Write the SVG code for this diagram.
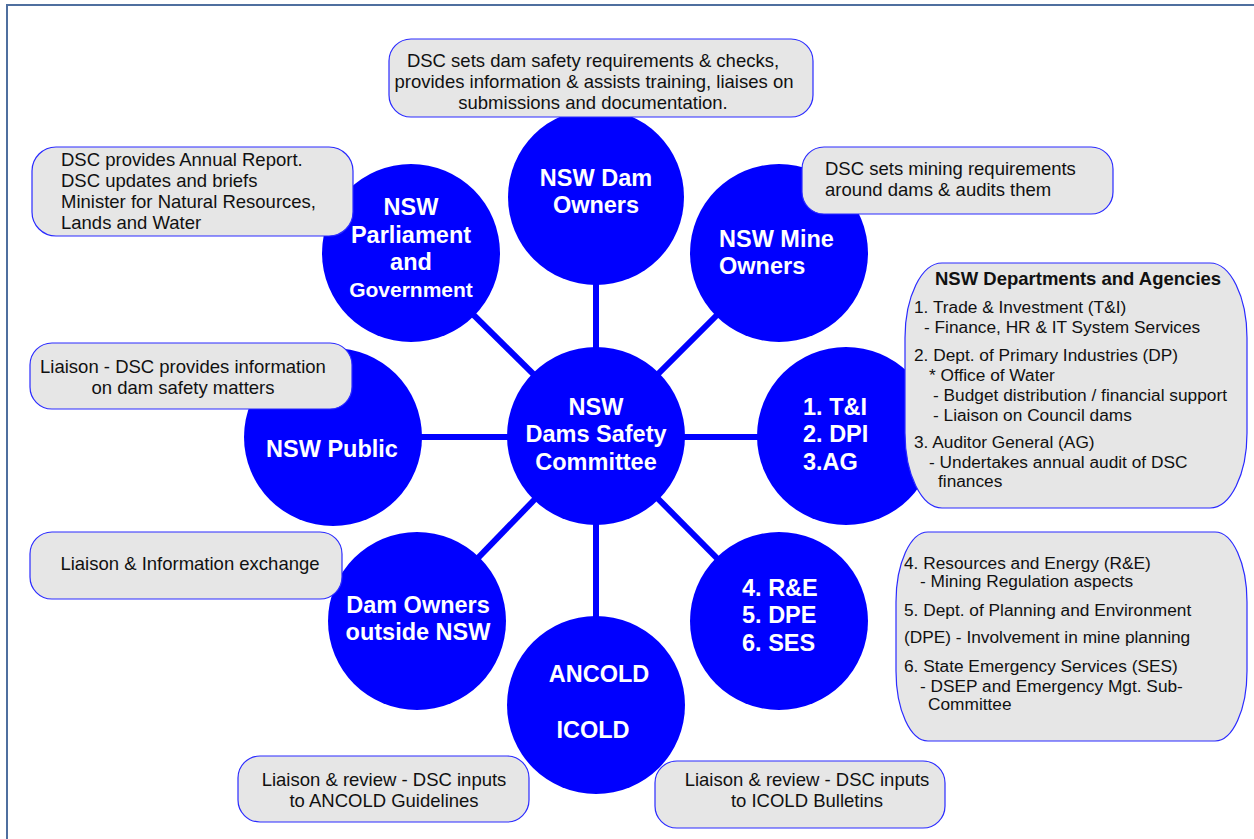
<svg xmlns="http://www.w3.org/2000/svg" width="1254" height="839" viewBox="0 0 1254 839">
<style>
.hub{fill:#0000ff}
.ct{font-family:"Liberation Sans",Arial,sans-serif;font-weight:bold;font-size:23.5px;fill:#ffffff}
.cm{text-anchor:middle}
.box{fill:#e6e6e6;stroke:#2a2aff;stroke-width:1.2}
.bt{font-family:"Liberation Sans",Arial,sans-serif;font-size:18.5px;fill:#111111}
.st{font-family:"Liberation Sans",Arial,sans-serif;font-size:17.3px;fill:#111111}
.conn{stroke:#0000ff;stroke-width:6;fill:none}
</style>
<rect x="7" y="5" width="1262" height="852" fill="#ffffff" stroke="#4f6f9f" stroke-width="2"/>
<g id="connectors">
<line class="conn" x1="596" y1="436" x2="596" y2="197"/>
<line class="conn" x1="596" y1="436" x2="411" y2="253"/>
<line class="conn" x1="596" y1="436" x2="779" y2="253"/>
<line class="conn" x1="596" y1="437" x2="846" y2="437"/>
<line class="conn" x1="596" y1="437" x2="333" y2="437"/>
<line class="conn" x1="596" y1="436" x2="779" y2="621"/>
<line class="conn" x1="596" y1="436" x2="417" y2="621"/>
<line class="conn" x1="596" y1="436" x2="596" y2="705"/>
</g>
<g id="dsc">
<circle class="hub" cx="596" cy="436" r="89"/>
<text class="ct cm" x="596" y="415">NSW</text>
<text class="ct cm" x="596" y="442">Dams Safety</text>
<text class="ct cm" x="596" y="470">Committee</text>
</g>
<g id="dam-owners">
<circle class="hub" cx="596" cy="197" r="88"/>
<text class="ct cm" x="596" y="186">NSW Dam</text>
<text class="ct cm" x="596" y="213">Owners</text>
</g>
<g id="parliament">
<circle class="hub" cx="411" cy="253" r="89"/>
<text class="ct cm" x="411" y="215">NSW</text>
<text class="ct cm" x="411" y="243">Parliament</text>
<text class="ct cm" x="411" y="270">and</text>
<text class="ct cm" x="411" y="297" style="font-size:21px">Government</text>
</g>
<g id="mine-owners">
<circle class="hub" cx="779" cy="253" r="89"/>
<text class="ct" x="719" y="247">NSW Mine</text>
<text class="ct" x="719" y="274">Owners</text>
</g>
<g id="ti-dpi-ag">
<circle class="hub" cx="846" cy="436" r="89"/>
<text class="ct" x="803" y="415">1. T&amp;I</text>
<text class="ct" x="803" y="442">2. DPI</text>
<text class="ct" x="803" y="470">3.AG</text>
</g>
<g id="re-dpe-ses">
<circle class="hub" cx="779" cy="621" r="89"/>
<text class="ct" x="742" y="596">4. R&amp;E</text>
<text class="ct" x="742" y="623">5. DPE</text>
<text class="ct" x="742" y="651">6. SES</text>
</g>
<g id="ancold-icold">
<circle class="hub" cx="596" cy="705" r="89"/>
<text class="ct cm" x="599" y="682">ANCOLD</text>
<text class="ct cm" x="593" y="738">ICOLD</text>
</g>
<g id="outside-owners">
<circle class="hub" cx="417" cy="621" r="89"/>
<text class="ct cm" x="418" y="613">Dam Owners</text>
<text class="ct cm" x="418" y="640">outside NSW</text>
</g>
<g id="public">
<circle class="hub" cx="333" cy="437" r="89"/>
<text class="ct cm" x="332" y="457">NSW Public</text>
</g>
<g id="note-dam-owners">
<rect class="box" x="389" y="39" width="424" height="78" rx="22"/>
<text class="bt cm" x="593" y="67">DSC sets dam safety requirements &amp; checks,</text>
<text class="bt cm" x="594" y="88">provides information &amp; assists training, liaises on</text>
<text class="bt cm" x="593" y="109">submissions and documentation.</text>
</g>
<g id="note-parliament">
<rect class="box" x="32" y="147" width="321" height="89" rx="24"/>
<text class="bt" x="61" y="166">DSC provides Annual Report.</text>
<text class="bt" x="61" y="187">DSC updates and briefs</text>
<text class="bt" x="61" y="208">Minister for Natural Resources,</text>
<text class="bt" x="61" y="229">Lands and Water</text>
</g>
<g id="note-mine">
<rect class="box" x="802" y="147" width="311" height="67" rx="22"/>
<text class="bt" x="825" y="175">DSC sets mining requirements</text>
<text class="bt" x="825" y="196">around dams &amp; audits them</text>
</g>
<g id="note-departments">
<path class="box" d="M 942 263 H 1210 A 37 75 0 0 1 1247 338 V 433 A 37 75 0 0 1 1210 508 H 942 A 37 75 0 0 1 905 433 V 338 A 37 75 0 0 1 942 263 Z"/>
<text class="bt" x="935" y="285" style="font-weight:bold">NSW Departments and Agencies</text>
<text class="st" x="914" y="313">1. Trade &amp; Investment (T&amp;I)</text>
<text class="st" x="924" y="333">- Finance, HR &amp; IT System Services</text>
<text class="st" x="914" y="361">2. Dept. of Primary Industries (DP)</text>
<text class="st" x="929" y="381">* Office of Water</text>
<text class="st" x="933" y="401">- Budget distribution / financial support</text>
<text class="st" x="933" y="421">- Liaison on Council dams</text>
<text class="st" x="914" y="448">3. Auditor General (AG)</text>
<text class="st" x="929" y="468">- Undertakes annual audit of DSC</text>
<text class="st" x="938" y="487">finances</text>
</g>
<g id="note-agencies">
<path class="box" d="M 928 532 H 1215 A 32 70 0 0 1 1247 602 V 671 A 32 70 0 0 1 1215 741 H 928 A 32 70 0 0 1 896 671 V 602 A 32 70 0 0 1 928 532 Z"/>
<text class="st" x="904" y="569">4. Resources and Energy (R&amp;E)</text>
<text class="st" x="920" y="587">- Mining Regulation aspects</text>
<text class="st" x="904" y="616">5. Dept. of Planning and Environment</text>
<text class="st" x="904" y="643">(DPE) - Involvement in mine planning</text>
<text class="st" x="904" y="672">6. State Emergency Services (SES)</text>
<text class="st" x="920" y="692">- DSEP and Emergency Mgt. Sub-</text>
<text class="st" x="928" y="710">Committee</text>
</g>
<g id="note-public">
<rect class="box" x="30" y="343" width="322" height="66" rx="22"/>
<text class="bt cm" x="183" y="373">Liaison - DSC provides information</text>
<text class="bt cm" x="183" y="394">on dam safety matters</text>
</g>
<g id="note-outside">
<rect class="box" x="30" y="532" width="312" height="67" rx="22"/>
<text class="bt cm" x="190" y="570">Liaison &amp; Information exchange</text>
</g>
<g id="note-ancold">
<rect class="box" x="238" y="756" width="291" height="66" rx="22"/>
<text class="bt cm" x="384" y="786">Liaison &amp; review - DSC inputs</text>
<text class="bt cm" x="384" y="807">to ANCOLD Guidelines</text>
</g>
<g id="note-icold">
<rect class="box" x="655" y="761" width="290" height="67" rx="22"/>
<text class="bt cm" x="807" y="786">Liaison &amp; review - DSC inputs</text>
<text class="bt cm" x="807" y="807">to ICOLD Bulletins</text>
</g>
</svg>
